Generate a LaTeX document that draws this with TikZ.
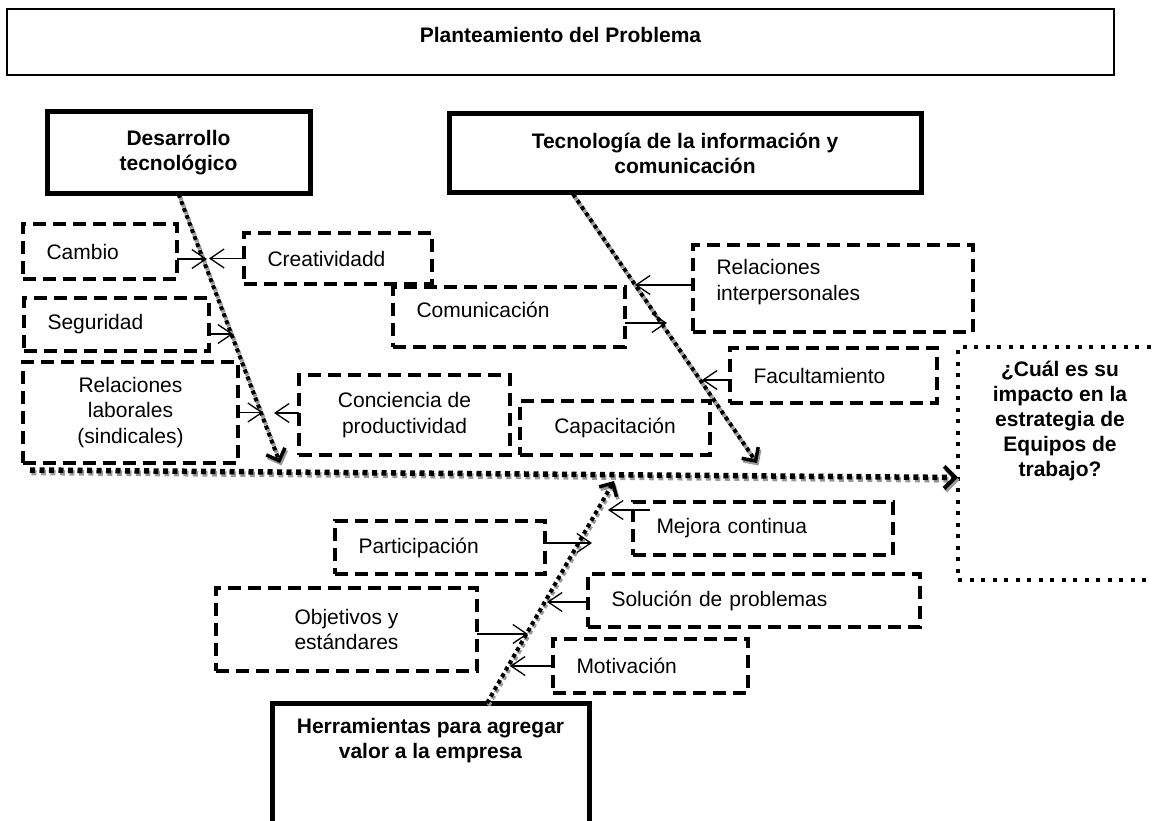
\documentclass[tikz,border=0pt]{standalone}
\usepackage{fontspec}
\setmainfont{Liberation Sans}
\usetikzlibrary{arrows.meta,calc}
\newcommand{\regtext}{\fontsize{21pt}{25.5pt}\selectfont}
\newcommand{\headtext}{\fontsize{21pt}{25pt}\selectfont\bfseries}

\begin{document}
\begin{tikzpicture}[x=1pt,y=-1pt,
  sz/.style 2 args={minimum width=#1pt, minimum height=#2pt},
  base/.style={rectangle, inner sep=0pt, outer sep=0pt},
  dbox/.style={base, draw, line width=4pt, dash pattern=on 13pt off 7pt, font=\regtext},
  lt/.style={align=left, text width=#1pt, inner xsep=23.5pt},
  ct/.style={align=center},
  sbox/.style={base, draw, line width=5pt, font=\headtext, align=center},
  qbox/.style={base, draw, line width=4pt, dash pattern=on 4pt off 7.5pt, font=\headtext, align=center},
  titlebox/.style={base, draw, line width=1.5pt, font=\headtext, align=center},
  thinarrow/.style={line width=1.3pt, -{Straight Barb[length=14pt,width=19pt,line width=1.3pt]}},
  bigdot/.style={line width=4pt, dash pattern=on 4pt off 3.5pt,
    -{Straight Barb[length=10pt,width=20pt,line width=3.5pt]}},
  maindot/.style={line width=5.5pt, dash pattern=on 5pt off 4.5pt,
    -{Straight Barb[length=11pt,width=22pt,line width=4pt]}},
  shade/.style={draw=black!40, transform canvas={shift={(1.5pt,-2.5pt)}}}
]
\useasboundingbox (0,0) rectangle (1152,821);

% heading
\node[titlebox, sz={1107}{66}, text depth=14pt] (title) at (560.5,42) {Planteamiento del Problema};

% main causes
\node[sbox, sz={263}{82}] (des) at (178.5,153) {Desarrollo\\tecnológico};
\node[sbox, sz={472}{79}] (tec) at (685,153.5) {Tecnología de la información y\\comunicación};
\node[sbox, sz={317}{137}, text depth=66pt] (her) at (430.5,771.5) {Herramientas para agregar\\valor a la empresa};

% effect
\node[qbox, sz={204}{233}, text depth=89pt] (q) at (1060,463.5) {¿Cuál es su\\impacto en la\\estrategia de\\Equipos de\\trabajo?};

% secondary causes
\node[dbox, sz={154}{55}, lt=107] (cambio) at (100,251.5) {Cambio};
\node[dbox, sz={188}{51}, lt=141] (creat) at (338,258.5) {Creatividadd};
\node[dbox, sz={185}{53}, lt=138] (seg) at (116.5,324.5) {Seguridad};
\node[dbox, sz={215}{101}, ct] (rl) at (130.5,412.5) {Relaciones\\laborales\\(sindicales)};
\node[dbox, sz={232}{60}, lt=185, text depth=14pt] (com) at (509,317) {Comunicación};
\node[dbox, sz={211}{80}, ct] (conc) at (404.5,415) {Conciencia de\\productividad};
\node[dbox, sz={190}{54}, ct] (cap) at (615,428) {Capacitación};
\node[dbox, sz={280}{87}, lt=233, text depth=43pt] (ri) at (833,288.5) {Relaciones\\interpersonales};
\node[dbox, sz={207}{55}, lt=160] (fac) at (833.5,375.5) {Facultamiento};
\node[dbox, sz={260}{53}, lt=213] (mej) at (763,528.5) {Mejora continua};
\node[dbox, sz={210}{53}, lt=163] (par) at (440,547.5) {Participación};
\node[dbox, sz={332}{53}, lt=285] (sol) at (754,600.5) {Solución de problemas};
\node[dbox, sz={261}{83}, ct] (obj) at (346.5,629.5) {Objetivos y\\estándares};
\node[dbox, sz={195}{54}, lt=148] (mot) at (650.5,666) {Motivación};

% ends of the bones
\coordinate (d1e) at (280,463);
\coordinate (d2s) at (573,194);
\coordinate (d2e) at (757,463);
\coordinate (d3s) at (487,703);
\coordinate (d3e) at (614,481);
\coordinate (ms) at (30,470);
\coordinate (me) at ($(q.west)+(0,14)$);

% spine and bones, shadow first
\draw[maindot, shade] (ms) -- (me);
\draw[maindot] (ms) -- (me);
\foreach \a/\b in {des.south/d1e, d2s/d2e, d3s/d3e}{
  \draw[bigdot, shade] (\a) -- (\b);
  \draw[bigdot] (\a) -- (\b);
}

% points where the small arrows meet the bones
\coordinate (c1) at (207,259);
\coordinate (c2) at (209,258.5);
\coordinate (c3) at (233,334);
\coordinate (c4) at (263,412.5);
\coordinate (c5) at (274,413);
\coordinate (c6) at (635,285);
\coordinate (c7) at (667,323);
\coordinate (c8) at (702,380);
\coordinate (c9) at (608,510);
\coordinate (c10) at (592,543);
\coordinate (c11) at (547,602);
\coordinate (c12) at (528,634);
\coordinate (c13) at (510,666);

\draw[thinarrow] ($(cambio.east)+(0,7.5)$) -- (c1);
\draw[thinarrow] (creat.west) -- (c2);
\draw[thinarrow] ($(seg.east)+(0,9.5)$) -- (c3);
\draw[thinarrow] (rl.east) -- (c4);
\draw[thinarrow] ($(conc.west)+(0,-2)$) -- (c5);
\draw[thinarrow] ($(ri.west)+(0,-3.5)$) -- (c6);
\draw[thinarrow] ($(com.east)+(0,6)$) -- (c7);
\draw[thinarrow] ($(fac.west)+(0,4.5)$) -- (c8);
\draw[thinarrow] ($(mej.north west)+(17,8)$) -- (c9);
\draw[thinarrow] ($(par.east)+(0,-4.5)$) -- (c10);
\draw[thinarrow] ($(sol.west)+(0,1.5)$) -- (c11);
\draw[thinarrow] ($(obj.east)+(0,4.5)$) -- (c12);
\draw[thinarrow] (mot.west) -- (c13);
\end{tikzpicture}
\end{document}
